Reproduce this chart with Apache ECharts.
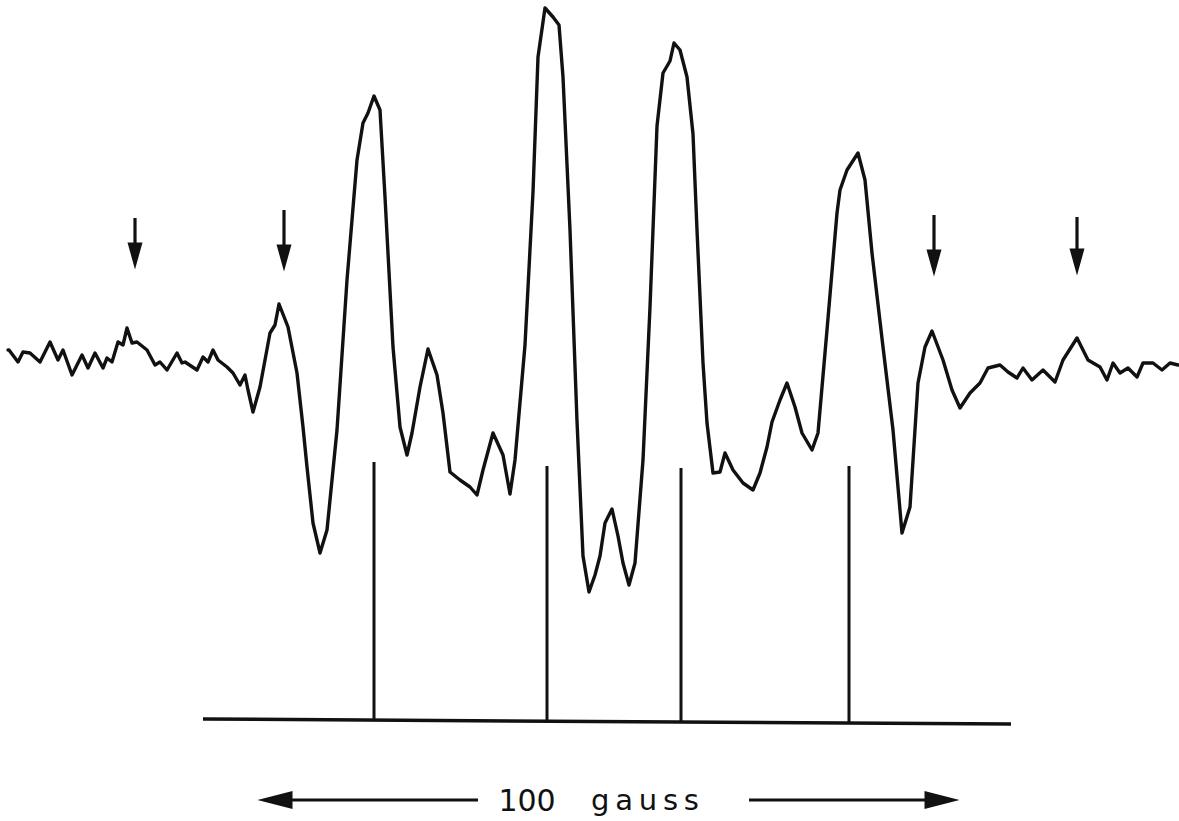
<!DOCTYPE html>
<html>
<head>
<meta charset="utf-8">
<script src="https://cdn.jsdelivr.net/npm/echarts@6/dist/echarts.min.js"></script>
<style>
html,body{margin:0;padding:0;background:#fff;}
#chart{width:1179px;height:821px;}
</style>
</head>
<body>
<div id="chart"></div>
<script>
// EPR trace (field position, signal) (chart units)
const traceX = [8,9,18,23,30,40,50,58,63,72,82,88,95,103,107,112,118,123,127,132,137,147,155,160,167,177,182,185,197,203,208,213,218,227,233,240,245,248,253,260,270,275,279,288,297,303,307,313,320,327,337,347,357,363,368,374,380,385,393,400,407,412,420,428,437,443,450,460,470,477,483,493,503,510,515,525,533,538,545,553,559,563,570,577,583,589,595,600,605,612,618,623,629,635,643,650,657,663,670,674,680,687,693,697,703,707,713,720,725,733,743,753,760,767,772,780,787,795,802,812,818,827,837,840,847,858,865,872,883,893,902,910,918,925,932,943,952,960,970,980,988,1000,1008,1017,1023,1032,1043,1055,1063,1077,1088,1100,1107,1113,1120,1128,1137,1143,1153,1162,1170,1178];
const traceY = [350,350,362,352,353,362,342,360,350,375,355,368,353,368,358,362,342,345,328,343,342,350,365,362,370,353,363,362,370,357,362,350,360,367,373,385,375,390,412,387,333,325,304,327,373,427,467,523,553,530,430,280,160,123,113,96,110,197,347,427,455,433,387,349,375,413,472,480,487,495,470,433,455,494,460,345,192,57,8,17,25,77,230,421,556,592,575,556,523,509,536,563,585,563,460,307,126,73,61,43,50,77,134,230,363,423,473,472,453,470,483,490,473,447,422,400,383,407,433,450,433,330,213,190,170,153,180,253,347,430,533,507,383,347,331,360,390,408,393,383,368,365,372,378,368,380,370,382,360,338,360,367,380,363,373,368,377,363,363,370,363,365];

// stick spectrum
const stickX = [374, 547, 681, 849];
const stickTop = [462, 466, 468, 466];
const baseX = [203, 1011];
const baseY = [719, 724];

// marker arrows above trace
const arrowX = [135, 284, 934, 1077];
const arrowTop = [218, 210, 215, 217];
const arrowTip = [269, 271, 276, 275];

// scale bar
const scaleNumber = '100';
const scaleUnit = 'g\u2009a\u2009u\u2009s\u2009s';
const scaleLeftTip = 258, scaleLeftEnd = 478, scaleRightStart = 749, scaleRightTip = 959, scaleY = 800;
const numberX = 527, unitX = 645;
const baseAt = x => baseY[0] + (baseY[1] - baseY[0]) * (x - baseX[0]) / (baseX[1] - baseX[0]);

const ink = '#111';
const series = [];
series.push({
  type: 'line', data: traceX.map((x, i) => [x, traceY[i]]), showSymbol: false,
  lineStyle: {color: ink, width: 3.4, join: 'round', cap: 'round'}, animation: false, silent: true
});
series.push({
  type: 'line', data: baseX.map((x, i) => [x, baseY[i]]), showSymbol: false,
  lineStyle: {color: ink, width: 3.5}, animation: false, silent: true
});
stickX.forEach((x, i) => series.push({
  type: 'line', data: [[x, stickTop[i]], [x, baseAt(x)]], showSymbol: false,
  lineStyle: {color: ink, width: 3}, animation: false, silent: true
}));
arrowX.forEach((x, i) => series.push({
  type: 'line', data: [[x, arrowTop[i]], [x, arrowTip[i] - 20]], showSymbol: false,
  lineStyle: {color: ink, width: 3.2}, animation: false, silent: true
}));
series.push({
  type: 'scatter', data: arrowX.map((x, i) => [x, arrowTip[i] - 13]),
  symbol: 'triangle', symbolSize: [15, 27], symbolRotate: 180,
  itemStyle: {color: ink, opacity: 1}, animation: false, silent: true
});
series.push({
  type: 'line', data: [[scaleLeftTip + 20, scaleY], [scaleLeftEnd, scaleY]], showSymbol: false,
  lineStyle: {color: ink, width: 2.8}, animation: false, silent: true
});
series.push({
  type: 'line', data: [[scaleRightStart, scaleY], [scaleRightTip - 20, scaleY]], showSymbol: false,
  lineStyle: {color: ink, width: 2.8}, animation: false, silent: true
});
series.push({
  type: 'scatter', data: [[scaleLeftTip + 17, scaleY]], symbol: 'triangle',
  symbolSize: [18, 35], symbolRotate: 90, itemStyle: {color: ink, opacity: 1}, animation: false, silent: true
});
series.push({
  type: 'scatter', data: [[scaleRightTip - 17, scaleY]], symbol: 'triangle',
  symbolSize: [18, 35], symbolRotate: -90, itemStyle: {color: ink, opacity: 1}, animation: false, silent: true
});
series.push({
  type: 'scatter', symbolSize: 0, itemStyle: {opacity: 1},
  data: [
    {value: [numberX, scaleY], label: {formatter: scaleNumber, fontSize: 30}},
    {value: [unitX, scaleY], label: {formatter: scaleUnit, fontSize: 29}}
  ],
  label: {show: true, position: 'inside', color: ink, opacity: 1,
          fontSize: 30, fontFamily: 'DejaVu Sans', fontWeight: 'normal'},
  animation: false, silent: true
});

const chart = echarts.init(document.getElementById('chart'), null, {renderer: 'svg'});
chart.setOption({
  backgroundColor: '#fff',
  animation: false,
  grid: {left: 0, right: 0, top: 0, bottom: 0},
  xAxis: {type: 'value', min: 0, max: 1179, show: false},
  yAxis: {type: 'value', min: 0, max: 821, inverse: true, show: false},
  series: series
});
</script>
</body>
</html>
